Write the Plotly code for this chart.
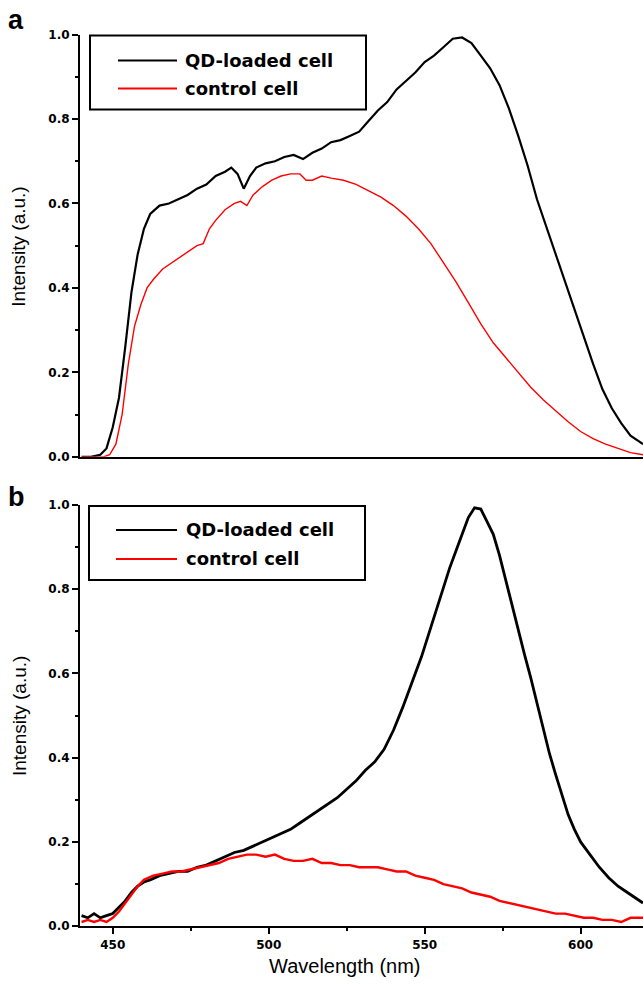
import plotly.graph_objects as go

# ---------------- data ----------------
# Panel a
a_qd_wl = [440, 443, 446, 448, 450, 452, 454, 456, 458, 460, 462, 465, 468, 471, 474, 477, 480,
           483, 486, 488, 490, 492, 494, 496, 499, 502, 505, 508, 511, 514, 517, 520, 523, 526,
           529, 532, 535, 538, 541, 544, 547, 550, 553, 556, 559, 562, 565, 568, 571, 574, 577,
           580, 583, 586, 589, 592, 595, 598, 601, 604, 607, 610, 613, 616, 620]
a_qd_int = [0.0, 0.0, 0.005, 0.02, 0.07, 0.14, 0.26, 0.39, 0.48, 0.54, 0.575, 0.595, 0.60, 0.61,
            0.62, 0.635, 0.645, 0.665, 0.675, 0.685, 0.67, 0.635, 0.665, 0.685, 0.695, 0.70, 0.71,
            0.715, 0.705, 0.72, 0.73, 0.745, 0.75, 0.76, 0.77, 0.795, 0.82, 0.84, 0.87, 0.89,
            0.91, 0.935, 0.95, 0.97, 0.99, 0.993, 0.98, 0.95, 0.92, 0.88, 0.825, 0.76, 0.69,
            0.61, 0.545, 0.48, 0.41, 0.345, 0.28, 0.22, 0.16, 0.115, 0.08, 0.05, 0.03]

a_ctrl_wl = [440, 444, 447, 449, 451, 453, 455, 457, 459, 461, 463, 466, 469, 472, 475, 477, 479,
             481, 483, 486, 489, 491, 493, 495, 498, 501, 504, 507, 510, 512, 514, 517, 520, 524,
             528, 532, 536, 540, 544, 548, 552, 556, 560, 564, 568, 572, 576, 580, 584, 588, 592,
             596, 600, 604, 608, 612, 616, 620]
a_ctrl_int = [0.0, 0.0, 0.0, 0.005, 0.03, 0.10, 0.22, 0.31, 0.36, 0.40, 0.42, 0.445, 0.46, 0.475,
              0.49, 0.50, 0.505, 0.54, 0.56, 0.585, 0.60, 0.605, 0.595, 0.62, 0.64, 0.655, 0.665,
              0.67, 0.67, 0.655, 0.655, 0.665, 0.66, 0.655, 0.645, 0.63, 0.615, 0.595, 0.57,
              0.54, 0.505, 0.46, 0.415, 0.365, 0.315, 0.27, 0.235, 0.2, 0.165, 0.135, 0.108,
              0.083, 0.06, 0.043, 0.03, 0.02, 0.01, 0.005]

# Panel b
b_qd_wl = [440, 442, 444, 446, 448, 450, 452, 454, 456, 458, 460, 462, 465, 468, 471, 474, 477,
           480, 483, 486, 489, 492, 495, 498, 501, 504, 507, 510, 513, 516, 519, 522, 525, 528,
           531, 534, 537, 540, 543, 546, 549, 552, 555, 558, 561, 564, 566, 568, 570, 572, 574,
           576, 578, 580, 582, 584, 586, 588, 590, 592, 594, 596, 598, 600, 603, 606, 609, 612,
           615, 618, 620]
b_qd_int = [0.025, 0.02, 0.03, 0.02, 0.025, 0.03, 0.045, 0.06, 0.08, 0.095, 0.105, 0.11, 0.12,
            0.125, 0.13, 0.13, 0.14, 0.145, 0.155, 0.165, 0.175, 0.18, 0.19, 0.20, 0.21, 0.22,
            0.23, 0.245, 0.26, 0.275, 0.29, 0.305, 0.325, 0.345, 0.37, 0.39, 0.42, 0.465, 0.52,
            0.58, 0.64, 0.71, 0.78, 0.85, 0.91, 0.97, 0.993, 0.99, 0.96, 0.93, 0.88, 0.82, 0.76,
            0.70, 0.645, 0.59, 0.53, 0.47, 0.41, 0.36, 0.31, 0.265, 0.23, 0.20, 0.17, 0.14,
            0.115, 0.095, 0.08, 0.065, 0.055]

b_ctrl_wl = [440, 442, 444, 446, 448, 450, 452, 454, 456, 458, 460, 463, 466, 469, 472, 475, 478,
             481, 484, 487, 490, 493, 496, 499, 502, 505, 508, 511, 514, 517, 520, 523, 526, 529,
             532, 535, 538, 541, 544, 547, 550, 553, 556, 559, 562, 565, 568, 571, 574, 577, 580,
             583, 586, 589, 592, 595, 598, 601, 604, 607, 610, 613, 616, 620]
b_ctrl_int = [0.01, 0.015, 0.01, 0.015, 0.01, 0.02, 0.035, 0.055, 0.075, 0.095, 0.11, 0.12,
              0.125, 0.13, 0.13, 0.135, 0.14, 0.145, 0.15, 0.16, 0.165, 0.17, 0.17, 0.165, 0.17,
              0.16, 0.155, 0.155, 0.16, 0.15, 0.15, 0.145, 0.145, 0.14, 0.14, 0.14, 0.135, 0.13,
              0.13, 0.12, 0.115, 0.11, 0.10, 0.095, 0.09, 0.08, 0.075, 0.07, 0.06, 0.055, 0.05,
              0.045, 0.04, 0.035, 0.03, 0.03, 0.025, 0.02, 0.02, 0.015, 0.015, 0.01, 0.02, 0.02]

series_names = ["QD-loaded cell", "control cell"]
series_colors = ["#000000", "#ff0000"]
x_ticks = [450, 500, 550, 600]
y_ticks = [0.0, 0.2, 0.4, 0.6, 0.8, 1.0]

# ---------------- layout helpers (target pixels -> paper) ----------------
W, H = 643, 984
ML, MR, MT, MB = 80, 0, 0, 0
PW, PH = W - ML - MR, H - MT - MB
YSTRETCH = 0.985  # vertical placement correction around the figure middle


def px(x):
    return (x - ML) / PW


def py(y):
    y = 500 + (y - 500) / YSTRETCH
    return 1 - (y - MT) / PH


fig = go.Figure()

fig.add_trace(go.Scatter(x=a_qd_wl, y=a_qd_int, name=series_names[0], mode="lines",
                         line=dict(color=series_colors[0], width=2.2), xaxis="x", yaxis="y",
                         showlegend=False))
fig.add_trace(go.Scatter(x=a_ctrl_wl, y=a_ctrl_int, name=series_names[1], mode="lines",
                         line=dict(color=series_colors[1], width=1.4), xaxis="x", yaxis="y",
                         showlegend=False))
fig.add_trace(go.Scatter(x=b_qd_wl, y=b_qd_int, name=series_names[0], mode="lines",
                         line=dict(color=series_colors[0], width=2.8), xaxis="x2", yaxis="y2",
                         showlegend=False))
fig.add_trace(go.Scatter(x=b_ctrl_wl, y=b_ctrl_int, name=series_names[1], mode="lines",
                         line=dict(color=series_colors[1], width=2.4), xaxis="x2", yaxis="y2",
                         showlegend=False))

tickfont = dict(family="DejaVu Sans", size=12, color="black", weight="bold")
xrange = [439.5, 620]

common_y = dict(range=[0, 1.0], tickvals=y_ticks, tickformat=".1f", ticks="outside", ticklen=6,
                tickwidth=2, tickcolor="black", showline=True, linecolor="black", linewidth=2,
                showgrid=False, zeroline=False, tickfont=tickfont,
                minor=dict(dtick=0.1, ticks="outside", ticklen=3, tickwidth=2, tickcolor="black",
                           showgrid=False))

fig.update_layout(
    width=W, height=H,
    margin=dict(l=ML, r=MR, t=MT, b=MB),
    paper_bgcolor="white", plot_bgcolor="white",
    xaxis=dict(domain=[0, 1], range=xrange, anchor="y", showline=True, linecolor="black",
               linewidth=2, showgrid=False, zeroline=False, showticklabels=False, ticks=""),
    yaxis=dict(domain=[py(457), py(35)], anchor="x", **common_y),
    xaxis2=dict(domain=[0, 1], range=xrange, anchor="y2", showline=True, linecolor="black",
                linewidth=2, showgrid=False, zeroline=False, tickvals=x_ticks, ticks="outside",
                ticklen=6, tickwidth=2, tickcolor="black", tickfont=tickfont,
                minor=dict(dtick=25, tick0=450, ticks="outside", ticklen=3, tickwidth=2,
                           tickcolor="black", showgrid=False)),
    yaxis2=dict(domain=[py(926), py(505)], anchor="x2", **common_y),
    showlegend=False,
)

annotations = []
shapes = []

# panel letters
annotations.append(dict(text="<b>a</b>", x=px(16), y=py(20), xref="paper", yref="paper",
                        showarrow=False, font=dict(family="Liberation Sans", size=27, color="black"),
                        xanchor="center", yanchor="middle"))
annotations.append(dict(text="<b>b</b>", x=px(16), y=py(497), xref="paper", yref="paper",
                        showarrow=False, font=dict(family="Liberation Sans", size=27, color="black"),
                        xanchor="center", yanchor="middle"))

# axis titles
for yc in (247, 716):
    annotations.append(dict(text="Intensity (a.u.)", x=px(19), y=py(yc), xref="paper",
                            yref="paper", showarrow=False, textangle=-90,
                            font=dict(family="Liberation Sans", size=19, color="black"),
                            xanchor="center", yanchor="middle"))
annotations.append(dict(text="Wavelength (nm)", x=px(345), y=py(966), xref="paper",
                        yref="paper", showarrow=False,
                        font=dict(family="Liberation Sans", size=20, color="black"),
                        xanchor="center", yanchor="middle"))

# legend boxes
legend_boxes = [
    dict(x0=90, x1=366, y0=36, y1=110, line_x0=118, line_x1=177, rows=(61, 89), text_x=183),
    dict(x0=89, x1=365, y0=506, y1=580, line_x0=116, line_x1=177, rows=(530, 559), text_x=184),
]
for box in legend_boxes:
    shapes.append(dict(type="rect", xref="paper", yref="paper", x0=px(box["x0"]),
                       x1=px(box["x1"]), y0=py(box["y1"]), y1=py(box["y0"]),
                       line=dict(color="black", width=2), fillcolor="rgba(0,0,0,0)"))
    for name, color, ry in zip(series_names, series_colors, box["rows"]):
        shapes.append(dict(type="line", xref="paper", yref="paper", x0=px(box["line_x0"]),
                           x1=px(box["line_x1"]), y0=py(ry), y1=py(ry),
                           line=dict(color=color, width=2)))
        annotations.append(dict(text="<b>" + name + "</b>", x=px(box["text_x"]), y=py(ry),
                                xref="paper", yref="paper", showarrow=False,
                                font=dict(family="DejaVu Sans", size=18, color="black"),
                                xanchor="left", yanchor="middle"))

fig.update_layout(annotations=annotations, shapes=shapes)

# remove the default page margin so the figure fills the window exactly
fig.write_html("out.html",
               config={"displayModeBar": False},
               post_script="document.body.style.margin='0';"
                           "document.body.style.overflow='hidden';")
